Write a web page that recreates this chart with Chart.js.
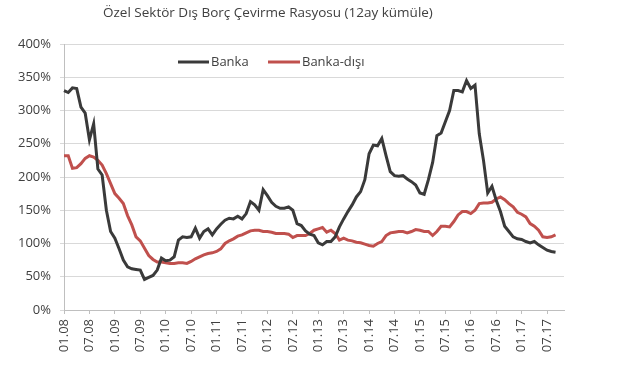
<!DOCTYPE html>
<html>
<head>
<meta charset="utf-8">
<script src="https://cdn.jsdelivr.net/npm/chart.js@4"></script>
<style>
  html, body { margin: 0; padding: 0; background: #fff; }
  #wrap { width: 617px; height: 379px; position: relative; }
</style>
</head>
<body>
<div id="wrap"><canvas id="chart" width="617" height="379"></canvas></div>
<script>
// Aylik etiketler 01.08 - 11.17 (eksen 11.17'ye kadar uzaniyor, veri 09.17'de bitiyor)
const months = [];
for (let y = 8; y <= 17; y++) {
    for (let m = 1; m <= 12; m++) {
        if (y === 17 && m > 11) break;
        months.push(String(m).padStart(2, '0') + '.' + String(y).padStart(2, '0'));
    }
}

const yTicks = [0, 50, 100, 150, 200, 250, 300, 350, 400];

// Banka (%), 01.08 - 09.17
const banka = [
    330, 327, 334, 333, 305, 296, 256, 280, 212, 203, 150, 118,
    108, 92, 75, 65, 62, 61, 60, 46, 49, 52, 60, 78,
    74, 75, 80, 105, 110, 109, 110, 123, 108, 118, 122, 113,
    122, 129, 135, 138, 137, 141, 137, 145, 163, 158, 150, 181,
    172, 162, 156, 153, 153, 155, 150, 130, 127, 119, 114, 112,
    101, 98, 103, 103, 110, 125, 137, 148, 158, 170, 178, 196,
    235, 248, 247, 258, 232, 208, 202, 201, 202, 197, 193, 188,
    176, 174, 196, 222, 262, 266, 283, 300, 330, 330, 328, 345,
    333, 338, 265, 225, 176, 186, 165, 148, 126, 118, 110, 107,
    106, 103, 101, 103, 98, 94, 90, 88, 87
];

// Banka-disi (%), 01.08 - 09.17
const bankaDisi = [
    232, 232, 213, 214, 220, 228, 232, 230, 225, 218, 205, 190,
    175, 168, 160, 142, 128, 110, 104, 93, 82, 76, 72, 72,
    71, 70, 70, 71, 71, 70, 73, 77, 80, 83, 85, 86,
    88, 92, 100, 104, 107, 111, 113, 116, 119, 120, 120, 118,
    118, 117, 115, 115, 115, 114, 109, 112, 112, 112, 115, 120,
    122, 124, 117, 120, 115, 105, 108, 105, 104, 102, 101, 99,
    97, 96, 100, 103, 112, 116, 117, 118, 118, 116, 118, 121,
    120, 118, 118, 112, 118, 126, 126, 125, 133, 143, 148, 148,
    145, 150, 160, 161, 161, 162, 167, 170, 166, 160, 155, 147,
    144, 140, 130, 126, 120, 110, 109, 110, 113
];

const FONT = '"Open Sans", sans-serif';
const TEXT = '#404040';
const GRID = '#d9d9d9';
const C_BANKA = '#3a3a3a';
const C_DISI = '#c0504d';

// Baslik ve grafik ici lejant
const overlay = {
    id: 'overlay',
    afterDraw(chart) {
        const ctx = chart.ctx;
        ctx.save();
        ctx.fillStyle = TEXT;
        ctx.font = '13.5px ' + FONT;
        ctx.textBaseline = 'middle';
        ctx.textAlign = 'left';
        ctx.fillText('Özel Sektör Dış Borç Çevirme Rasyosu (12ay kümüle)', 103, 13);

        const ly = 62;
        ctx.font = '13px ' + FONT;
        ctx.lineWidth = 3;
        ctx.strokeStyle = C_BANKA;
        ctx.beginPath(); ctx.moveTo(178, ly); ctx.lineTo(209, ly); ctx.stroke();
        ctx.fillText('Banka', 211, ly);
        ctx.strokeStyle = C_DISI;
        ctx.beginPath(); ctx.moveTo(268, ly); ctx.lineTo(300, ly); ctx.stroke();
        ctx.fillText('Banka-dışı', 302, ly);
        ctx.restore();
    }
};

new Chart(document.getElementById('chart'), {
    type: 'line',
    data: {
        labels: months,
        datasets: [{
            label: 'Banka',
            data: banka,
            borderColor: C_BANKA,
            borderWidth: 3,
            pointRadius: 0,
            tension: 0
        }, {
            label: 'Banka-dışı',
            data: bankaDisi,
            borderColor: C_DISI,
            borderWidth: 3,
            pointRadius: 0,
            tension: 0
        }]
    },
    options: {
        responsive: false,
        animation: false,
        layout: { padding: { top: 44, right: 53, left: 0, bottom: 0 } },
        plugins: {
            legend: { display: false },
            tooltip: { enabled: false }
        },
        scales: {
            x: {
                offset: false,
                grid: { display: true, drawOnChartArea: false, drawTicks: true, tickLength: 4, color: '#bfbfbf' },
                border: { display: true, color: '#bfbfbf' },
                ticks: {
                    autoSkip: false,
                    maxRotation: 90,
                    minRotation: 90,
                    padding: 5,
                    color: TEXT,
                    font: { family: FONT, size: 13 },
                    callback: function(value, index) {
                        return index % 6 === 0 ? months[index] : null;
                    }
                },
                afterFit: function(scale) { scale.height = 69; }
            },
            y: {
                min: 0,
                max: 400,
                afterBuildTicks: function(scale) {
                    scale.ticks = yTicks.map(v => ({ value: v }));
                },
                grid: { color: GRID, tickLength: 4, lineWidth: 1 },
                border: { display: true, color: '#bfbfbf' },
                ticks: {
                    padding: 9,
                    color: TEXT,
                    font: { family: FONT, size: 13 },
                    callback: function(value) { return value + '%'; }
                },
                afterFit: function(scale) { scale.width = 64; }
            }
        }
    },
    plugins: [overlay]
});
</script>
</body>
</html>
